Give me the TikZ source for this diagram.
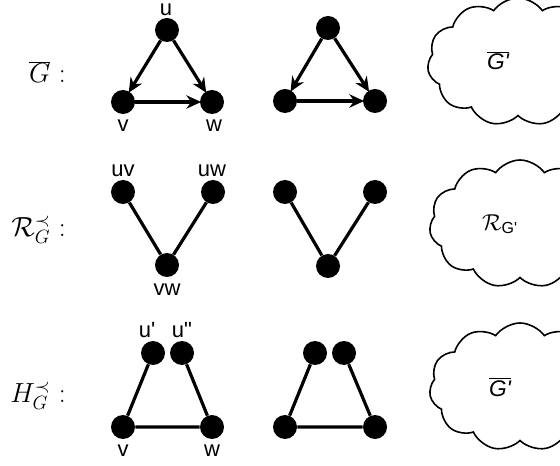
\documentclass[tikz,border=0pt]{standalone}
\usepackage{fontspec}
\setsansfont{Liberation Sans}[Ligatures=TeXOff]
\usetikzlibrary{arrows.meta,shapes.symbols}

\newcommand{\gprime}{G'}

\tikzset{
  vtx/.style={circle,fill=black,minimum size=18pt,inner sep=0pt},
  lbl/.style={inner sep=0.75pt,font=\sffamily\fontsize{16.5}{19}\selectfont},
  mathlbl/.style={inner sep=0.75pt,anchor=east,font=\fontsize{20.74}{25}\selectfont},
  edge/.style={line width=2.4pt},
  arr/.style={edge,-{Stealth[length=11pt,width=10pt]},shorten >=-1pt},
  cloudbox/.style={cloud,draw,line width=1.2pt,cloud puffs=11,cloud puff arc=110,cloud ignores aspect,
    minimum width=136pt,minimum height=96pt,inner sep=0pt,font=\sffamily\fontsize{17}{20}\selectfont}
}

\begin{document}
\begin{tikzpicture}[x=0.75pt,y=0.75pt,yscale=-1,xscale=1]
  \useasboundingbox (0,0) rectangle (560,466);

  % first row
  \node [mathlbl] (gbar) at (67,72) {$\overline{G}$ :};
  \node [vtx] (u1) at (167,30) {};
  \node [vtx] (v1) at (123,102) {};
  \node [vtx] (w1) at (212,102) {};
  \draw [arr] (u1) -- (v1);
  \draw [arr] (u1) -- (w1);
  \draw [arr] (v1) -- (w1);
  % Text Node
  \node [lbl] (lu1) at (166,10) {u};
  \node [lbl] (lv1) at (123,126) {v};
  \node [lbl] (lw1) at (214,126) {w};

  \node [vtx] (u2) at (328,28) {};
  \node [vtx] (v2) at (285,101) {};
  \node [vtx] (w2) at (375,101) {};
  \draw [arr] (u2) -- (v2);
  \draw [arr] (u2) -- (w2);
  \draw [arr] (v2) -- (w2);

  \node [cloudbox] (c1) at (518,62) {\raisebox{2pt}{$\overline{\mbox{\itshape\gprime}}$}\hspace*{30pt}};

  % second row
  \node [mathlbl] (rg) at (67,230) {$\mathcal{R}^{\prec}_{G}$ :};
  \node [vtx] (uv1) at (123,192) {};
  \node [vtx] (uw1) at (213,192) {};
  \node [vtx] (vw1) at (167,265) {};
  \draw [edge] (uv1) -- (vw1) -- (uw1);
  % Text Node
  \node [lbl] (luv1) at (123,171) {uv};
  \node [lbl] (luw1) at (212,171) {uw};
  \node [lbl] (lvw1) at (167,290) {vw};

  \node [vtx] (uv2) at (285,192) {};
  \node [vtx] (uw2) at (375,192) {};
  \node [vtx] (vw2) at (328,266) {};
  \draw [edge] (uv2) -- (vw2) -- (uw2);

  \node [cloudbox] (c2) at (520,224) {\raisebox{-3pt}{$\mathcal{R}_{\mbox{\sffamily\fontsize{12}{14}\selectfont\gprime}}$}\hspace*{30pt}};

  % third row
  \node [mathlbl] (hg) at (67,396) {$H^{\prec}_{G}$ :};
  \node [vtx] (ua1) at (153,353) {};
  \node [vtx] (ub1) at (182,353) {};
  \node [vtx] (v3) at (123,427) {};
  \node [vtx] (w3) at (212,427) {};
  \draw [edge] (ua1) -- (v3) -- (w3) -- (ub1);
  % Text Node
  \node [lbl] (lua1) at (147,330) {u'};
  \node [lbl] (lub1) at (182,330) {u"};
  \node [lbl] (lv3) at (123,451) {v};
  \node [lbl] (lw3) at (212,451) {w};

  \node [vtx] (ua2) at (315,353) {};
  \node [vtx] (ub2) at (344,353) {};
  \node [vtx] (v4) at (285,427) {};
  \node [vtx] (w4) at (375,427) {};
  \draw [edge] (ua2) -- (v4) -- (w4) -- (ub2);

  \node [cloudbox] (c3) at (520,387) {$\overline{\mbox{\itshape\gprime}}$\hspace*{30pt}};
\end{tikzpicture}
\end{document}
